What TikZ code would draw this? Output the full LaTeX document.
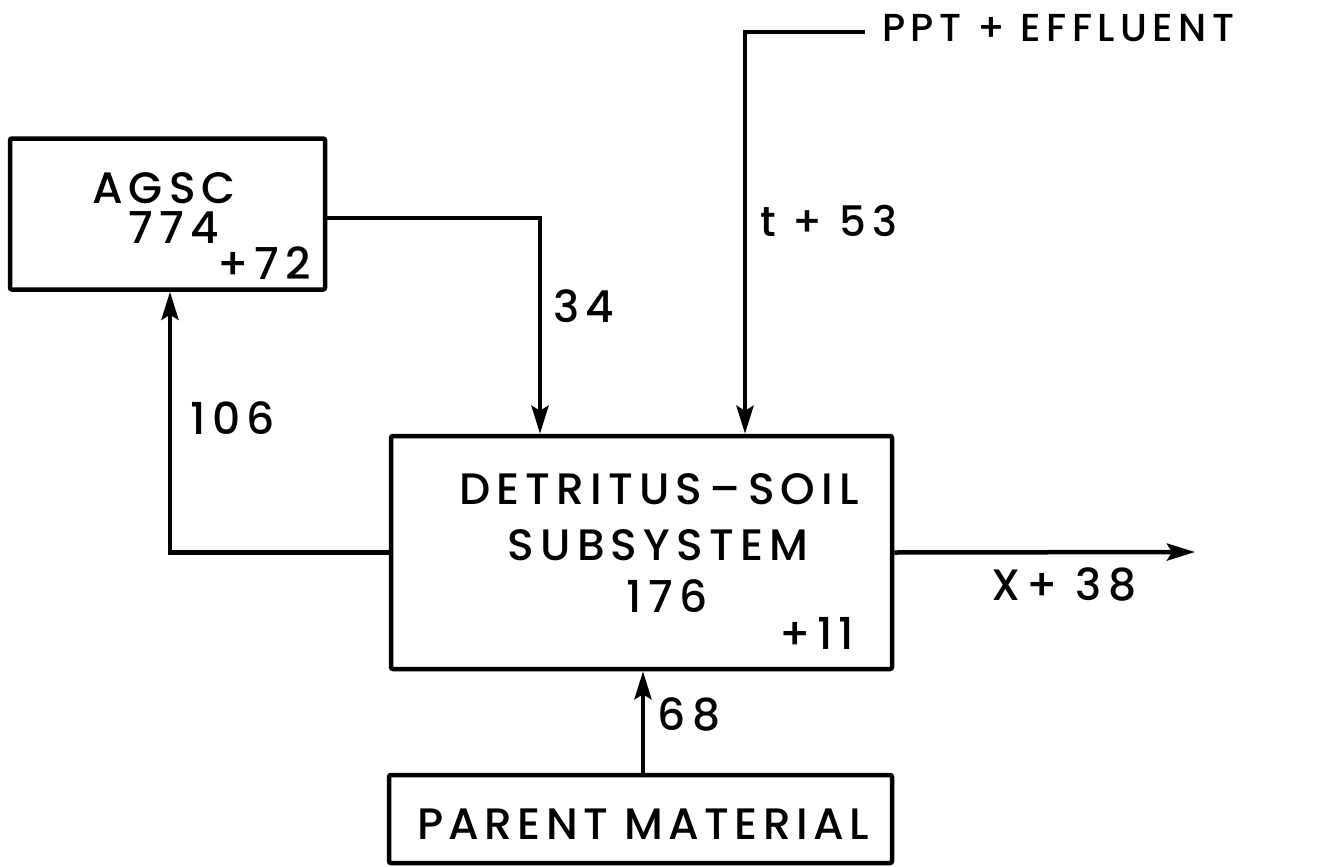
\documentclass[tikz,border=0pt]{standalone}
\usepackage{fontspec}
\setmainfont{Poppins}[UprightFont=* Medium,LetterSpace=14]
\usetikzlibrary{arrows.meta}
\begin{document}
\begin{tikzpicture}[x=1pt,y=-1pt,
  box/.style={draw,line width=4.5pt,minimum width=#1,inner sep=0pt,rounded corners=2pt},
  lbl/.style={inner sep=0pt,font=\fontsize{44}{48}\selectfont},
  flow/.style={line width=4.5pt,-{Stealth[length=28pt,width=17pt,inset=5pt]}}]
\useasboundingbox (0,0) rectangle (1328,867);
% boxes
\node[box=315pt,minimum height=151pt] (agsc) at (167.5,214) {};
\node[box=501pt,minimum height=233pt] (det) at (641.5,552.5) {};
\node[box=503pt,minimum height=88pt] (par) at (640.5,819) {};
% texts
\node[lbl] (t1) at (164,188) {AGSC};
\node[lbl] (t2) at (174,228) {774};
\node[lbl] (t3) at (264,263) {+72};
\node[lbl] (t4) at (659,489) {DETRITUS\,--\,SOIL};
\node[lbl] (t5) at (658,545) {SUBSYSTEM};
\node[lbl] (t6) at (667,596) {176};
\node[lbl] (t7) at (817,633) {+11};
\node[lbl,font=\fontsize{44}{48}\selectfont\addfontfeature{LetterSpace=12}] (t8) at (643,824) {PARENT MATERIAL};
\node[lbl,anchor=west,font=\fontsize{39}{42}\selectfont] (ppt) at (882,28) {PPT + EFFLUENT};
\node[lbl] (l34) at (584,306) {34};
\node[lbl,font=\fontsize{42}{46}\selectfont] (l53) at (829,221) {t + 53};
\node[lbl] (l106) at (233,418) {106};
\node[lbl] (l68) at (689,714) {68};
\node[lbl] (lx) at (1064,584) {X+ 38};
% coordinates
\coordinate (pin) at (865,32);
\coordinate (pc) at (745,32);
\coordinate (out) at (1195,552);
% connectors
\draw[flow] (pin) -- (pc) -- (det.north -| pc);
\draw[flow] (agsc.east |- 0,218) -| (det.north -| 540,0);
\draw[flow] (det.west) -| (agsc.south -| 170,0);
\draw[flow] (det.east) -- (out);
\draw[flow] (par.north -| 643,0) -- (det.south -| 643,0);
\end{tikzpicture}
\end{document}
